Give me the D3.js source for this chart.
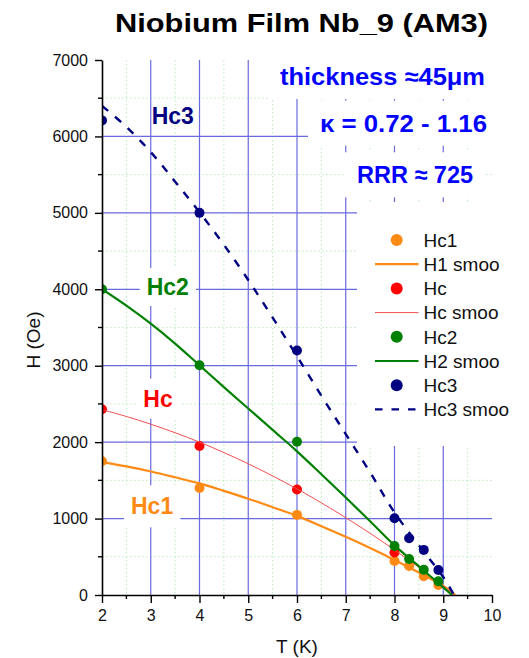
<!DOCTYPE html>
<html><head><meta charset="utf-8">
<script src="https://cdn.jsdelivr.net/npm/d3@7"></script>
<style>
body{margin:0;background:#fff}
svg{display:block}
text{font-family:"Liberation Sans",Arial,Helvetica,sans-serif}
</style>
</head><body>
<svg id="chart" width="529" height="658"></svg>
<script>
// ---------- data ----------
const xTickValues = [2,3,4,5,6,7,8,9,10];
const xTickLabels = ["2","3","4","5","6","7","8","9","10"];
const yTickValues = [0,1000,2000,3000,4000,5000,6000,7000];
const yTickLabels = ["0","1000","2000","3000","4000","5000","6000","7000"];
const xMinorValues = [2.5,3.5,4.5,5.5,6.5,7.5,8.5,9.5];
const yMinorValues = [500,1500,2500,3500,4500,5500,6500];
const xGridMajor = [3,4,5,6,7,8,9];
const yGridMajor = [1000,2000,3000,4000,5000,6000];

// measured points
const tPts   = [2,4,6,8,8.3,8.6,8.9];
const hc1Pts = [1750,1400,1048,446,380,245,130];
const hcT    = [2,4,6,8];
const hcPts  = [2430,1950,1380,555];
const hc2Pts = [4000,3005,2005,640,470,330,180];
const hc3Pts = [6210,5000,3200,1005,743,590,328];

// smoothed curves
const h1SmooT  = [2,2.5,3,3.5,4,4.5,5,5.5,6,6.5,7,7.5,8,8.5,9,9.25];
const h1Smoo   = [1740,1682,1616,1540,1460,1362,1260,1149,1035,900,762,615,459,294,120,0];
const hcSmooT  = [2,2.5,3,3.5,4,4.5,5,5.5,6,6.5,7,7.5,8,8.5,9,9.22];
const hcSmoo   = [2425,2336,2235,2123,2000,1864,1717,1558,1388,1206,1012,807,590,361,120,0];
const h2SmooT  = [2,2.5,3,3.5,4,4.5,5,5.5,6,6.5,7,7.5,8,8.5,9,9.18];
const h2Smoo   = [4000,3785,3550,3290,3005,2720,2440,2160,1880,1580,1275,965,650,375,100,0];
const hc3SmooT = [2,2.5,3,3.5,4,4.5,5,5.5,6,6.5,7,7.5,8,8.5,9,9.22];
const hc3Smoo  = [6400,6125,5795,5408,5008,4582,4122,3630,3123,2607,2105,1605,1080,650,235,0];

const legendLabels = ["Hc1","H1 smoo","Hc","Hc smoo","Hc2","H2 smoo","Hc3","Hc3 smoo"];

// ---------- styling ----------
const C_OR = "#ff8a14", C_RED = "#ff0000", C_GR = "#008000", C_NV = "#000080", C_BL = "#0000ff";

const svg = d3.select("#chart");
const x = d3.scaleLinear().domain([2,10]).range([102,492]);
const y = d3.scaleLinear().domain([0,7000]).range([595,60]);

// minor grid
const g = svg.append("g");
g.selectAll(".vmin").data(xMinorValues).enter().append("line")
  .attr("x1",d=>x(d)).attr("x2",d=>x(d)).attr("y1",y(7000)).attr("y2",y(0))
  .attr("stroke","#b8ecb8").attr("stroke-width",1).attr("stroke-dasharray","1.5,2.5");
g.selectAll(".hmin").data(yMinorValues).enter().append("line")
  .attr("x1",x(2)).attr("x2",x(10)).attr("y1",d=>y(d)).attr("y2",d=>y(d))
  .attr("stroke","#b8ecb8").attr("stroke-width",1).attr("stroke-dasharray","1.5,2.5");
// major grid
g.selectAll(".vmaj").data(xGridMajor).enter().append("line")
  .attr("x1",d=>x(d)).attr("x2",d=>x(d)).attr("y1",y(7000)).attr("y2",y(0))
  .attr("stroke","#6a6ae0").attr("stroke-width",1.2);
g.selectAll(".hmaj").data(yGridMajor).enter().append("line")
  .attr("x1",x(2)).attr("x2",x(10)).attr("y1",d=>y(d)).attr("y2",d=>y(d))
  .attr("stroke","#6a6ae0").attr("stroke-width",1.2);

// white boxes layer (labels) drawn over grid
const boxLayer = svg.append("g");
const textLayer = svg.append("g");
function boxedText(txt, xx, yy, opts){
  const t = textLayer.append("text").attr("x",xx).attr("y",yy)
    .attr("font-size",opts.size).attr("font-weight",opts.weight||"bold")
    .attr("fill",opts.color);
  if(opts.len){ t.attr("textLength",opts.len).attr("lengthAdjust","spacingAndGlyphs"); }
  t.text(txt);
  if(opts.padX!==undefined){
    const b = t.node().getBBox();
    boxLayer.append("rect").attr("x",b.x-opts.padX).attr("y",b.y-opts.padY)
      .attr("width",b.width+2*opts.padX).attr("height",b.height+2*opts.padY)
      .attr("fill","#fff");
  }
  return t;
}

// annotations
boxedText("thickness \u224845\u03bcm", 280, 85, {size:24,color:C_BL,len:205,padX:12,padY:9});
boxedText("\u03ba = 0.72 - 1.16", 320, 131.7, {size:24,color:C_BL,len:167,padX:12,padY:9});
boxedText("RRR \u2248 725", 357, 183.3, {size:24,color:C_BL,len:116,padX:12,padY:9});

// curve labels
boxedText("Hc3", 151.7, 124.3, {size:23,color:C_NV});
boxedText("Hc2", 146.7, 295, {size:23,color:C_GR,padX:7,padY:6});
boxedText("Hc", 143.3, 406.7, {size:23,color:C_RED,padX:7,padY:7});
boxedText("Hc1", 131, 514.3, {size:23,color:C_OR,padX:7,padY:8});

// legend background
boxLayer.append("rect").attr("x",357).attr("y",202).attr("width",168).attr("height",244).attr("fill","#fff");

// ---------- data layer ----------
svg.append("clipPath").attr("id","clip").append("rect")
  .attr("x",x(2)).attr("y",y(7000)-10).attr("width",x(10)-x(2)+10).attr("height",y(0)-y(7000)+10);
const data = svg.append("g").attr("clip-path","url(#clip)");
const line = d3.line().x(d=>x(d[0])).y(d=>y(d[1])).curve(d3.curveCatmullRom.alpha(0.5));
const zip = (a,b)=>a.map((v,i)=>[v,b[i]]);

function pts(T,Hs,color){
  data.append("g").selectAll("circle").data(zip(T,Hs)).enter().append("circle")
    .attr("cx",d=>x(d[0])).attr("cy",d=>y(d[1])).attr("r",5).attr("fill",color);
}
function curve(T,Hs,color,w,dash){
  const p = data.append("path").datum(zip(T,Hs)).attr("d",line)
    .attr("fill","none").attr("stroke",color).attr("stroke-width",w);
  if(dash) p.attr("stroke-dasharray",dash);
}
pts(tPts,hc1Pts,C_OR);
curve(h1SmooT,h1Smoo,C_OR,2.2);
pts(hcT,hcPts,C_RED);
curve(hcSmooT,hcSmoo,"#f05050",1);
pts(tPts,hc2Pts,C_GR);
curve(h2SmooT,h2Smoo,C_GR,2.2);
pts(tPts,hc3Pts,C_NV);
curve(hc3SmooT,hc3Smoo,C_NV,2.4,"8,9");

// ---------- axes ----------
const xAxis = d3.axisBottom(x).tickValues(xTickValues).tickFormat((d,i)=>xTickLabels[i])
  .tickSize(8).tickSizeOuter(0).tickPadding(7);
const yAxis = d3.axisLeft(y).tickValues(yTickValues).tickFormat((d,i)=>yTickLabels[i])
  .tickSize(7).tickSizeOuter(0).tickPadding(7);
const gx = svg.append("g").attr("transform",`translate(0,${y(0)})`).call(xAxis);
const gy = svg.append("g").attr("transform",`translate(${x(2)},0)`).call(yAxis);
[gx,gy].forEach(a=>{
  a.selectAll("path").attr("stroke","#000").attr("stroke-width",1.6);
  a.selectAll("line").attr("stroke","#000").attr("stroke-width",1.4);
  a.selectAll("text").attr("font-size",16).attr("fill","#111")
    .attr("font-family",'"Liberation Sans",Arial,sans-serif');
});
// minor ticks
svg.append("g").selectAll("line").data(xMinorValues).enter().append("line")
  .attr("x1",d=>x(d)).attr("x2",d=>x(d)).attr("y1",y(0)).attr("y2",y(0)+4)
  .attr("stroke","#000").attr("stroke-width",1.4);
svg.append("g").selectAll("line").data(yMinorValues).enter().append("line")
  .attr("x1",x(2)-4).attr("x2",x(2)).attr("y1",d=>y(d)).attr("y2",d=>y(d))
  .attr("stroke","#000").attr("stroke-width",1.4);

// axis titles
svg.append("text").attr("x",297).attr("y",653).attr("text-anchor","middle")
  .attr("font-size",19).attr("fill","#111").text("T (K)");
svg.append("text").attr("transform","translate(39.5,340) rotate(-90)").attr("text-anchor","middle")
  .attr("font-size",19).attr("fill","#111").text("H (Oe)");

// title
svg.append("text").attr("x",115).attr("y",31.7).attr("font-size",26).attr("font-weight","bold")
  .attr("fill","#000").attr("textLength",373).attr("lengthAdjust","spacingAndGlyphs")
  .text("Niobium Film Nb_9 (AM3)");

// ---------- legend ----------
const legendStyles = [
  {type:"pt",color:C_OR},{type:"line",color:C_OR,w:2.2},
  {type:"pt",color:C_RED},{type:"line",color:"#f05050",w:1},
  {type:"pt",color:C_GR},{type:"line",color:C_GR,w:2.2},
  {type:"pt",color:C_NV},{type:"line",color:C_NV,w:2.4,dash:"7.5,9"}
];
const lg = svg.append("g");
legendLabels.forEach((lab,i)=>{
  const cy = 240 + i*24.2;
  const s = legendStyles[i];
  if(s.type==="pt"){
    lg.append("circle").attr("cx",396.7).attr("cy",cy).attr("r",6).attr("fill",s.color);
  } else {
    const l = lg.append("line").attr("x1",375).attr("x2",418.5).attr("y1",cy).attr("y2",cy)
      .attr("stroke",s.color).attr("stroke-width",s.w);
    if(s.dash) l.attr("stroke-dasharray",s.dash);
  }
  lg.append("text").attr("x",423.5).attr("y",cy+6.8).attr("font-size",19).attr("fill","#111").text(lab);
});
</script>
</body></html>
